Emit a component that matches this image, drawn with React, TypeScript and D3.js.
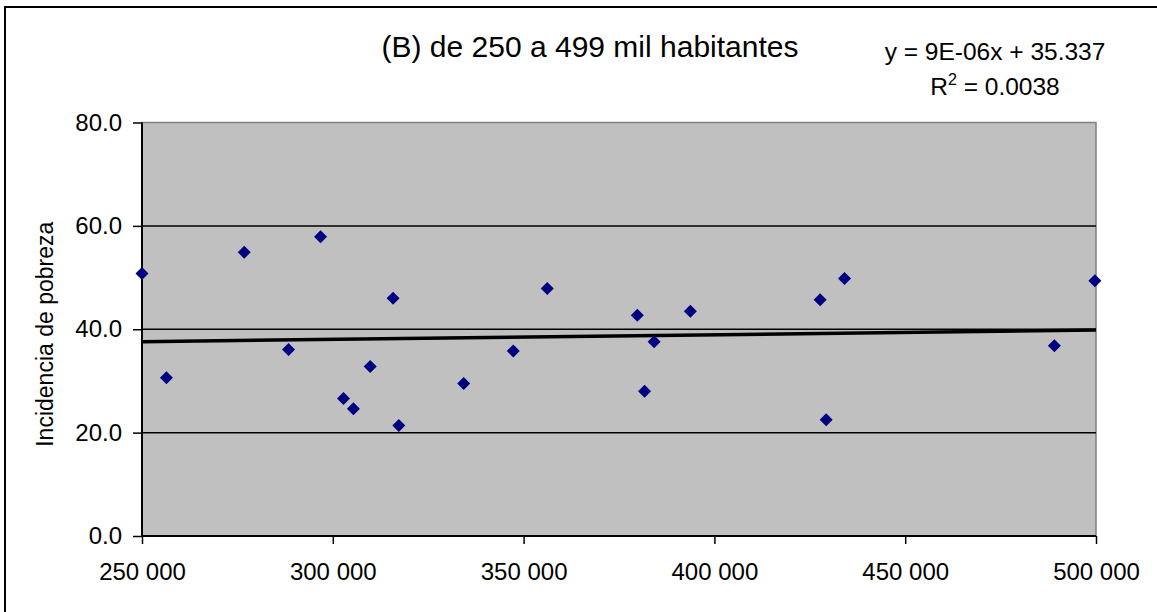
import React, { useEffect, useRef } from 'react';
import * as d3 from 'd3';

// population (habitantes) and poverty incidence (%)
const population = [
	250000, 256400, 276800, 288400, 296800, 302800, 305400, 309800, 315800, 317300, 334300,
	347300, 356200, 379800, 381700, 384200, 393700, 427700, 429300, 434100, 489100, 499700,
];
const poverty = [
	50.8, 30.6, 54.9, 36.1, 57.9, 26.6, 24.6, 32.8, 46.0, 21.4, 29.5,
	35.8, 47.9, 42.7, 28.0, 37.6, 43.5, 45.7, 22.5, 49.8, 36.8, 49.4,
];
const xTicks = [250000, 300000, 350000, 400000, 450000, 500000];
const yTicks = [0, 20, 40, 60, 80];
const gridTicks = [20, 40, 60];
// trend line coefficients as printed on the chart
const trendSlope = 9e-6;
const trendIntercept = 35.337;
const titleText = '(B) de 250 a 499 mil habitantes';
const yLabel = 'Incidencia de pobreza';

const width = 1157;
const height = 612;
const margin = { left: 142, right: 61, top: 122.5, bottom: 76 };

export default function App() {
	const ref = useRef<SVGSVGElement | null>(null);

	useEffect(() => {
		const svg = d3.select(ref.current);
		svg.selectAll('*').remove();
		svg.style('font-family', 'Arial, "Liberation Sans", sans-serif');

		const x = d3
			.scaleLinear()
			.domain([250000, 500000])
			.range([margin.left, width - margin.right]);
		const y = d3
			.scaleLinear()
			.domain([0, 80])
			.range([height - margin.bottom, margin.top]);

		const locale = d3.formatLocale({ decimal: '.', thousands: ' ', grouping: [3], currency: ['', ''] });
		const fmtX = locale.format(',d');
		const fmtY = d3.format('.1f');

		// outer frame
		svg.append('rect')
			.attr('x', 5)
			.attr('y', 7)
			.attr('width', 1170)
			.attr('height', 630)
			.attr('fill', '#fff')
			.attr('stroke', '#000')
			.attr('stroke-width', 2);

		// plot area
		svg.append('rect')
			.attr('x', x(250000))
			.attr('y', y(80))
			.attr('width', x(500000) - x(250000))
			.attr('height', y(0) - y(80))
			.attr('fill', '#c0c0c0')
			.attr('stroke', '#808080')
			.attr('stroke-width', 1.5);

		// grid lines
		svg.selectAll('.grid')
			.data(gridTicks)
			.enter()
			.append('line')
			.attr('class', 'grid')
			.attr('x1', x(250000))
			.attr('x2', x(500000))
			.attr('y1', d => y(d))
			.attr('y2', d => y(d))
			.attr('stroke', '#000')
			.attr('stroke-width', 1.5);

		// axes
		const yAxis = svg.append('g').attr('transform', `translate(${x(250000)},0)`);
		yAxis.call(
			d3.axisLeft(y).tickValues(yTicks).tickSize(9).tickPadding(11).tickFormat(d => fmtY(d as number))
		);
		const xAxis = svg.append('g').attr('transform', `translate(0,${y(0)})`);
		xAxis.call(
			d3.axisBottom(x).tickValues(xTicks).tickSize(8).tickPadding(19).tickFormat(d => fmtX(d as number))
		);
		[yAxis, xAxis].forEach(g => {
			g.select('.domain').attr('stroke', '#000').attr('stroke-width', 2);
			g.selectAll('.tick line').attr('stroke', '#000').attr('stroke-width', 1.5);
			g.selectAll('.tick text')
				.attr('fill', '#000')
				.style('font-size', '24px')
				.style('font-family', 'Arial, "Liberation Sans", sans-serif');
		});
		xAxis.select('.domain').attr('d', `M${x(250000)},0H${x(500000)}`);
		yAxis.select('.domain').attr('d', `M0,${y(0)}V${y(80)}`);

		// trend line
		const line = d3
			.line<number>()
			.x(d => x(d))
			.y(d => y(trendSlope * d + trendIntercept));
		svg.append('path')
			.attr('d', line([250000, 500000]))
			.attr('fill', 'none')
			.attr('stroke', '#000')
			.attr('stroke-width', 3.5);

		// points - diamonds
		const r = 6.5;
		svg.selectAll('.pt')
			.data(population.map((p, i) => [p, poverty[i]]))
			.enter()
			.append('path')
			.attr('class', 'pt')
			.attr('d', `M0,${-r}L${r},0L0,${r}L${-r},0Z`)
			.attr('transform', d => `translate(${x(d[0])},${y(d[1])})`)
			.attr('fill', '#000080');

		// title
		svg.append('text')
			.attr('x', 590)
			.attr('y', 57)
			.attr('text-anchor', 'middle')
			.style('font-size', '30px')
			.text(titleText);

		// trend equation
		svg.append('text')
			.attr('x', 995)
			.attr('y', 60)
			.attr('text-anchor', 'middle')
			.style('font-size', '24.5px')
			.text('y = 9E-06x + 35.337');
		const r2 = svg.append('text')
			.attr('x', 995)
			.attr('y', 95)
			.attr('text-anchor', 'middle')
			.style('font-size', '24.5px');
		r2.append('tspan').text('R');
		r2.append('tspan').attr('dy', -10).style('font-size', '16px').text('2');
		r2.append('tspan').attr('dy', 10).text(' = 0.0038');

		// y label
		svg.append('text')
			.attr('transform', `translate(53,${(y(0) + y(80)) / 2 + 5}) rotate(-90)`)
			.attr('text-anchor', 'middle')
			.style('font-size', '23px')
			.text(yLabel);
	}, []);

	return (
		<div style={{ position: 'absolute', left: 0, top: 0 }}>
			<svg ref={ref} width={width} height={height} style={{ display: 'block' }} />
		</div>
	);
}
